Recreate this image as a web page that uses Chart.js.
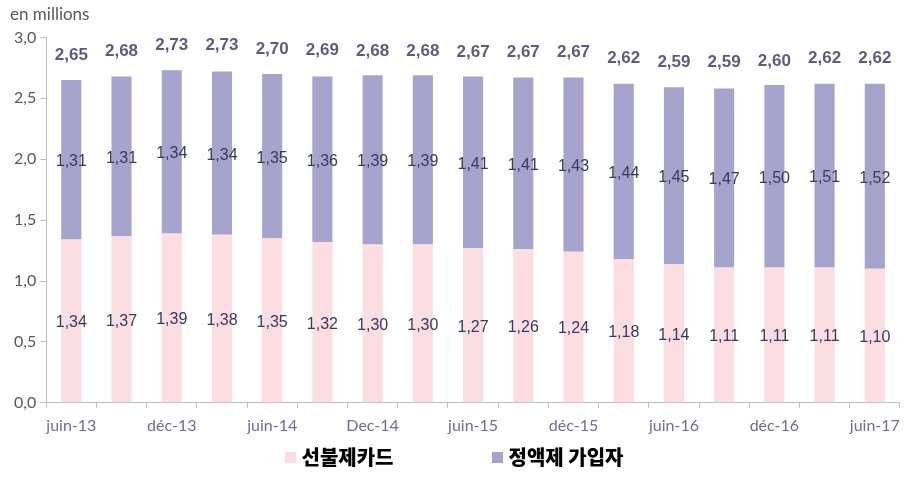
<!DOCTYPE html>
<html>
<head>
<meta charset="utf-8">
<script src="https://cdn.jsdelivr.net/npm/chart.js@4/dist/chart.umd.min.js"></script>
<style>
  html, body { margin:0; padding:0; background:#fff; }
  #wrap { width:908px; height:477px; position:relative; }
  #legend { position:absolute; left:0; right:0; top:444px; display:flex; justify-content:center; gap:98px;
    font-family:"Noto Sans CJK KR", sans-serif; font-weight:900; font-size:20px; color:#000; line-height:26px; }
  #legend span.sw { display:inline-block; width:11px; height:11px; margin-right:6px; vertical-align:2px; }
</style>
</head>
<body>
<div id="wrap">
  <canvas id="c" width="908" height="477"></canvas>
  <div id="legend"></div>
</div>
<script>
// data
const categories = ['juin-13','sept-13','déc-13','mars-14','juin-14','sept-14','Dec-14','mars-15','juin-15',
  'sept-15','déc-15','mars-16','juin-16','sept-16','déc-16','mars-17','juin-17'];
const prepaid = [1.34,1.37,1.39,1.38,1.35,1.32,1.30,1.30,1.27,1.26,1.24,1.18,1.14,1.11,1.11,1.11,1.10];
const flatRate = [1.31,1.31,1.34,1.34,1.35,1.36,1.39,1.39,1.41,1.41,1.43,1.44,1.45,1.47,1.50,1.51,1.52];
const totals = [2.65,2.68,2.73,2.73,2.70,2.69,2.68,2.68,2.67,2.67,2.67,2.62,2.59,2.59,2.60,2.62,2.62];
const seriesNames = ['선불제카드','정액제 가입자'];
const seriesColors = ['#fbdde2','#a6a4cc'];

const fmt = (v)=> v.toFixed(2).replace('.', ',');

// labels in the middle of each segment, plus totals above the stack
const labelPlugin = {
  id: 'barLabels',
  afterDatasetsDraw(chart){
    const ctx = chart.ctx;
    const y = chart.scales.y;
    ctx.save();
    ctx.textAlign = 'center';
    ctx.textBaseline = 'middle';
    chart.data.datasets.forEach((ds, di)=>{
      const meta = chart.getDatasetMeta(di);
      meta.data.forEach((bar, i)=>{
        ctx.font = '16px "Liberation Sans", Arial, sans-serif';
        ctx.fillStyle = '#3a3a5c';
        ctx.fillText(fmt(ds.data[i]), bar.x, (bar.y + bar.base)/2 + 2);
      });
    });
    const top = chart.getDatasetMeta(1);
    ctx.font = 'bold 17px "Liberation Sans", Arial, sans-serif';
    ctx.fillStyle = '#5c5c7c';
    top.data.forEach((bar, i)=>{
      ctx.fillText(fmt(totals[i]), bar.x, y.getPixelForValue(totals[i]) - 25);
    });
    ctx.restore();
  }
};

// html legend under the chart
const legendEl = document.getElementById('legend');
seriesNames.forEach((name, i)=>{
  const item = document.createElement('div');
  item.innerHTML = `<span class="sw" style="background:${seriesColors[i]}"></span>${name}`;
  legendEl.appendChild(item);
});

new Chart(document.getElementById('c'), {
  type: 'bar',
  data: {
    labels: categories,
    datasets: [
      { label: seriesNames[0], data: prepaid, backgroundColor: seriesColors[0], barPercentage: 0.8, categoryPercentage: 0.5 },
      { label: seriesNames[1], data: flatRate, backgroundColor: seriesColors[1], barPercentage: 0.8, categoryPercentage: 0.5 }
    ]
  },
  options: {
    responsive: false,
    animation: false,
    layout: { padding: { left: 10, right: 6, top: 0, bottom: 34 } },
    plugins: {
      title: {
        display: true, text: 'en millions', align: 'start', color: '#595959',
        font: { family: 'Lato, "Open Sans", sans-serif', size: 17, weight: 'normal' },
        padding: { top: 4, bottom: 13 }
      },
      legend: { display: false },
      tooltip: { enabled: false }
    },
    scales: {
      x: {
        stacked: true,
        grid: { offset: true, drawOnChartArea: false, drawTicks: true, tickLength: 5, color: '#bfbfbf' },
        border: { color: '#bfbfbf' },
        ticks: {
          autoSkip: false, maxRotation: 0, color: '#6e6e90', padding: 8,
          font: { family: 'Lato, "Open Sans", sans-serif', size: 16 },
          callback: (v, i)=> i % 2 === 0 ? categories[i] : ''
        }
      },
      y: {
        stacked: true, min: 0, max: 3,
        grid: { drawOnChartArea: false, drawTicks: true, tickLength: 6, color: '#bfbfbf' },
        border: { color: '#bfbfbf' },
        ticks: {
          stepSize: 0.5, color: '#595959', padding: 4,
          font: { family: 'Lato, "Open Sans", sans-serif', size: 16 },
          callback: (v)=> v.toFixed(1).replace('.', ',')
        }
      }
    }
  },
  plugins: [labelPlugin]
});
</script>
</body>
</html>
